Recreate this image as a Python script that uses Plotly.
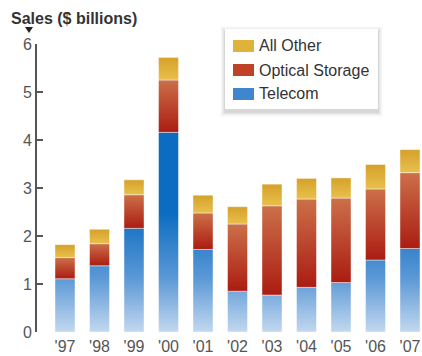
import plotly.graph_objects as go

# Sales by segment, $ billions
years = ["'97", "'98", "'99", "'00", "'01", "'02", "'03", "'04", "'05", "'06", "'07"]
telecom = [1.11, 1.38, 2.16, 4.16, 1.72, 0.85, 0.77, 0.93, 1.03, 1.50, 1.74]
optical = [0.44, 0.46, 0.70, 1.09, 0.76, 1.40, 1.86, 1.84, 1.76, 1.48, 1.58]
other = [0.27, 0.30, 0.31, 0.47, 0.37, 0.36, 0.45, 0.43, 0.42, 0.51, 0.48]
series_names = ["All Other", "Optical Storage", "Telecom"]
y_ticks = [0, 1, 2, 3, 4, 5, 6]

W, H = 422, 356
FONT = "Liberation Sans, Arial, Helvetica, sans-serif"
BAR_HALF = 0.29

# gradient colour ramps per segment
TELECOM_SCALE = [[0.0, "#c2d8ef"], [0.45, "#5b98d6"], [1.0, "#0b6cc1"]]
OPTICAL_SCALE = [[0.0, "#ab1c12"], [1.0, "#cc7049"]]
OTHER_SCALE = [[0.0, "#e8c04c"], [1.0, "#d5a12a"]]
SWATCH = {"All Other": "#dfb23c", "Optical Storage": "#bf4128", "Telecom": "#3f86cf"}


def px(x):
    return x / W


def py(y):
    return 1 - y / H


fig = go.Figure()


def add_segment(i, base, height, scale, start, stop):
    x0, x1 = i - BAR_HALF, i + BAR_HALF
    y0, y1 = base, base + height
    fig.add_trace(go.Scatter(
        x=[x0, x1, x1, x0, x0], y=[y0, y0, y1, y1, y0],
        mode="lines", fill="toself",
        line=dict(width=0.8, color="rgba(255,255,255,0.55)"),
        fillgradient=dict(type="vertical", colorscale=scale, start=start, stop=stop),
        hoverinfo="skip", showlegend=False,
    ))


for i in range(len(years)):
    t, o, a = telecom[i], optical[i], other[i]
    add_segment(i, 0, t, TELECOM_SCALE, 0, 2.5)
    add_segment(i, t, o, OPTICAL_SCALE, t, t + o)
    add_segment(i, t + o, a, OTHER_SCALE, t + o, t + o + a)

x_lo = (37 - 65) / 34.5
x_hi = (422 - 65) / 34.5

fig.update_xaxes(
    domain=[37 / W, 1.0], range=[x_lo, x_hi], automargin=False,
    tickvals=list(range(len(years))), ticktext=years,
    showgrid=False, zeroline=False, showline=False, ticks="",
    ticklabelstandoff=3,
    tickfont=dict(family=FONT, size=16, color="#555555"),
)
fig.update_yaxes(
    domain=[py(332), py(44)], range=[0, 6], automargin=False,
    tickvals=y_ticks, ticktext=[str(v) for v in y_ticks],
    ticks="inside", ticklen=6, tickwidth=1.6, tickcolor="#555555",
    showline=True, linecolor="#555555", linewidth=1.6,
    showgrid=False, zeroline=False,
    tickfont=dict(family=FONT, size=16, color="#555555"),
)

shapes = []
annotations = []

# legend box with soft shadow
lx0, lx1, ly0, ly1 = 225, 378, 29, 109
for k, alpha in enumerate([0.05, 0.04, 0.03, 0.02, 0.015]):
    g = k + 1
    shapes.append(dict(
        type="rect", xref="paper", yref="paper",
        x0=px(lx0 - g), x1=px(lx1 + g), y0=py(ly1 + 3 + g), y1=py(ly0 - g + 2),
        fillcolor=f"rgba(0,0,0,{alpha})", line=dict(width=0), layer="above",
    ))
shapes.append(dict(
    type="rect", xref="paper", yref="paper",
    x0=px(lx0), x1=px(lx1), y0=py(ly1), y1=py(ly0),
    fillcolor="white", line=dict(width=0), layer="above",
))
for name, yc in zip(series_names, [46, 70, 94]):
    shapes.append(dict(
        type="rect", xref="paper", yref="paper",
        x0=px(233), x1=px(254), y0=py(yc + 6), y1=py(yc - 6),
        fillcolor=SWATCH[name], line=dict(width=0), layer="above",
    ))
    annotations.append(dict(
        x=px(257), y=py(yc), xref="paper", yref="paper",
        xanchor="left", yanchor="middle", showarrow=False,
        text=name, font=dict(family=FONT, size=16, color="#333333"),
    ))

# axis title with pointer
annotations.append(dict(
    x=px(9), y=py(18), xref="paper", yref="paper",
    xanchor="left", yanchor="middle", showarrow=False,
    text="<b>Sales ($ billions)</b>", font=dict(family=FONT, size=16, color="#333333"),
))
shapes.append(dict(
    type="path", xref="paper", yref="paper",
    path=f"M {px(25)} {py(27)} L {px(33)} {py(27)} L {px(29)} {py(33)} Z",
    fillcolor="#222222", line=dict(width=0), layer="above",
))

fig.update_layout(
    width=W, height=H,
    margin=dict(l=0, r=0, t=0, b=0, pad=0),
    paper_bgcolor="white", plot_bgcolor="white",
    showlegend=False, shapes=shapes, annotations=annotations,
    font=dict(family=FONT),
)

fig.write_html("out.html", config={"displayModeBar": False})
